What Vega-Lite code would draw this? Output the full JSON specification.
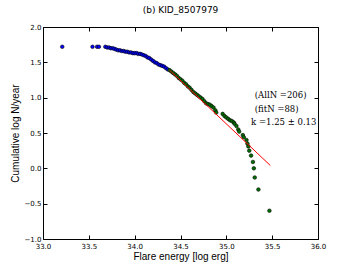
{
  "$schema": "https://vega.github.io/schema/vega-lite/v6.json",
  "width": 275,
  "height": 212,
  "autosize": "none",
  "padding": {"left": 43, "top": 27, "right": 36, "bottom": 27},
  "background": "white",
  "config": {
    "view": {"stroke": "black", "strokeWidth": 1},
    "axis": {"domain": false, "grid": false, "tickColor": "black", "tickSize": -4, "labelColor": "black", "labelFont": "DejaVu Sans", "labelFontSize": 7, "titleFont": "Liberation Sans", "titleFontSize": 10, "titleFontWeight": "normal", "titleColor": "black"}
  },
  "title": {"text": "(b) KID_8507979", "font": "DejaVu Sans", "fontSize": 9, "fontWeight": "normal", "color": "black", "offset": 8},
  "datasets": {
    "flares": [
      {"E": 33.21, "N": 1.72, "g": "all"},
      {"E": 33.54, "N": 1.72, "g": "all"},
      {"E": 33.59, "N": 1.72, "g": "all"},
      {"E": 33.61, "N": 1.72, "g": "all"},
      {"E": 33.68, "N": 1.72, "g": "all"},
      {"E": 33.70, "N": 1.71, "g": "all"},
      {"E": 33.72, "N": 1.71, "g": "all"},
      {"E": 33.74, "N": 1.70, "g": "all"},
      {"E": 33.76, "N": 1.70, "g": "all"},
      {"E": 33.78, "N": 1.69, "g": "all"},
      {"E": 33.80, "N": 1.68, "g": "all"},
      {"E": 33.82, "N": 1.67, "g": "all"},
      {"E": 33.84, "N": 1.67, "g": "all"},
      {"E": 33.86, "N": 1.66, "g": "all"},
      {"E": 33.88, "N": 1.66, "g": "all"},
      {"E": 33.90, "N": 1.65, "g": "all"},
      {"E": 33.92, "N": 1.65, "g": "all"},
      {"E": 33.94, "N": 1.64, "g": "all"},
      {"E": 33.96, "N": 1.64, "g": "all"},
      {"E": 33.98, "N": 1.63, "g": "all"},
      {"E": 34.00, "N": 1.63, "g": "all"},
      {"E": 34.02, "N": 1.63, "g": "all"},
      {"E": 34.04, "N": 1.62, "g": "all"},
      {"E": 34.06, "N": 1.62, "g": "all"},
      {"E": 34.08, "N": 1.61, "g": "all"},
      {"E": 34.10, "N": 1.60, "g": "all"},
      {"E": 34.12, "N": 1.59, "g": "all"},
      {"E": 34.14, "N": 1.57, "g": "all"},
      {"E": 34.16, "N": 1.56, "g": "all"},
      {"E": 34.18, "N": 1.54, "g": "all"},
      {"E": 34.20, "N": 1.52, "g": "all"},
      {"E": 34.22, "N": 1.50, "g": "all"},
      {"E": 34.24, "N": 1.49, "g": "all"},
      {"E": 34.26, "N": 1.47, "g": "all"},
      {"E": 34.28, "N": 1.46, "g": "all"},
      {"E": 34.30, "N": 1.45, "g": "all"},
      {"E": 34.32, "N": 1.44, "g": "all"},
      {"E": 34.34, "N": 1.42, "g": "all"},
      {"E": 34.36, "N": 1.40, "g": "all"},
      {"E": 34.38, "N": 1.39, "g": "fit"},
      {"E": 34.40, "N": 1.37, "g": "fit"},
      {"E": 34.42, "N": 1.35, "g": "fit"},
      {"E": 34.44, "N": 1.33, "g": "fit"},
      {"E": 34.46, "N": 1.31, "g": "fit"},
      {"E": 34.48, "N": 1.28, "g": "fit"},
      {"E": 34.50, "N": 1.26, "g": "fit"},
      {"E": 34.52, "N": 1.24, "g": "fit"},
      {"E": 34.54, "N": 1.21, "g": "fit"},
      {"E": 34.56, "N": 1.19, "g": "fit"},
      {"E": 34.58, "N": 1.16, "g": "fit"},
      {"E": 34.60, "N": 1.14, "g": "fit"},
      {"E": 34.62, "N": 1.11, "g": "fit"},
      {"E": 34.64, "N": 1.08, "g": "fit"},
      {"E": 34.66, "N": 1.06, "g": "fit"},
      {"E": 34.68, "N": 1.04, "g": "fit"},
      {"E": 34.70, "N": 1.02, "g": "fit"},
      {"E": 34.72, "N": 1.00, "g": "fit"},
      {"E": 34.74, "N": 0.98, "g": "fit"},
      {"E": 34.76, "N": 0.95, "g": "fit"},
      {"E": 34.78, "N": 0.92, "g": "fit"},
      {"E": 34.80, "N": 0.91, "g": "fit"},
      {"E": 34.82, "N": 0.90, "g": "fit"},
      {"E": 34.84, "N": 0.88, "g": "fit"},
      {"E": 34.86, "N": 0.86, "g": "fit"},
      {"E": 34.88, "N": 0.82, "g": "fit"},
      {"E": 34.89, "N": 0.79, "g": "fit"},
      {"E": 34.96, "N": 0.77, "g": "fit"},
      {"E": 34.98, "N": 0.74, "g": "fit"},
      {"E": 35.00, "N": 0.72, "g": "fit"},
      {"E": 35.02, "N": 0.70, "g": "fit"},
      {"E": 35.04, "N": 0.68, "g": "fit"},
      {"E": 35.06, "N": 0.67, "g": "fit"},
      {"E": 35.08, "N": 0.65, "g": "fit"},
      {"E": 35.09, "N": 0.63, "g": "fit"},
      {"E": 35.11, "N": 0.60, "g": "fit"},
      {"E": 35.13, "N": 0.55, "g": "fit"},
      {"E": 35.14, "N": 0.52, "g": "fit"},
      {"E": 35.18, "N": 0.47, "g": "fit"},
      {"E": 35.19, "N": 0.44, "g": "fit"},
      {"E": 35.22, "N": 0.40, "g": "fit"},
      {"E": 35.23, "N": 0.35, "g": "fit"},
      {"E": 35.24, "N": 0.31, "g": "fit"},
      {"E": 35.25, "N": 0.25, "g": "fit"},
      {"E": 35.27, "N": 0.18, "g": "fit"},
      {"E": 35.29, "N": 0.09, "g": "fit"},
      {"E": 35.30, "N": 0.00, "g": "fit"},
      {"E": 35.31, "N": -0.13, "g": "fit"},
      {"E": 35.35, "N": -0.30, "g": "fit"},
      {"E": 35.47, "N": -0.60, "g": "fit"}
    ],
    "fitline": [
      {"E": 34.38, "N": 1.39},
      {"E": 35.48, "N": 0.04}
    ],
    "one": [{"k": 1}]
  },
  "resolve": {"axis": {"x": "independent", "y": "independent"}},
  "layer": [
    {
      "data": {"name": "flares"},
      "mark": {"type": "point", "filled": true, "shape": "circle", "size": 13, "stroke": "black", "strokeWidth": 0.6, "opacity": 1},
      "encoding": {
        "x": {"field": "E", "type": "quantitative", "scale": {"domain": [33, 36], "nice": false, "zero": false},
              "axis": {"orient": "bottom", "title": "Flare energy [log erg]", "values": [33, 33.5, 34, 34.5, 35, 35.5, 36], "format": ".1f", "labelPadding": 7, "titlePadding": 2, "labelFlush": false}},
        "y": {"field": "N", "type": "quantitative", "scale": {"domain": [-1, 2], "nice": false, "zero": false},
              "axis": {"orient": "left", "title": "Cumulative log N/year", "values": [-1, -0.5, 0, 0.5, 1, 1.5, 2], "format": ".1f", "labelPadding": 6, "titlePadding": 4, "labelFlush": false}},
        "fill": {"field": "g", "type": "nominal", "scale": {"domain": ["all", "fit"], "range": ["#0000ff", "#007000"]}, "legend": null}
      }
    },
    {
      "data": {"name": "fitline"},
      "mark": {"type": "line", "color": "#ff0000", "strokeWidth": 1},
      "encoding": {
        "x": {"field": "E", "type": "quantitative", "axis": {"orient": "top", "title": null, "labels": false, "values": [33, 33.5, 34, 34.5, 35, 35.5, 36]}},
        "y": {"field": "N", "type": "quantitative", "axis": {"orient": "right", "title": null, "labels": false, "values": [-1, -0.5, 0, 0.5, 1, 1.5, 2]}}
      }
    },
    {
      "data": {"name": "one"},
      "mark": {"type": "text", "align": "left", "baseline": "middle", "font": "DejaVu Serif", "fontSize": 8.5, "color": "black", "text": "(AllN =206)"},
      "encoding": {
        "x": {"datum": 35.31, "type": "quantitative", "axis": null},
        "y": {"datum": 1.04, "type": "quantitative", "axis": null}
      }
    },
    {
      "data": {"name": "one"},
      "mark": {"type": "text", "align": "left", "baseline": "middle", "font": "DejaVu Serif", "fontSize": 8.5, "color": "black", "text": "(fitN =88)"},
      "encoding": {
        "x": {"datum": 35.31, "type": "quantitative", "axis": null},
        "y": {"datum": 0.84, "type": "quantitative", "axis": null}
      }
    },
    {
      "data": {"name": "one"},
      "mark": {"type": "text", "align": "left", "baseline": "middle", "font": "DejaVu Serif", "fontSize": 8.5, "color": "black", "text": "k =1.25 ± 0.13"},
      "encoding": {
        "x": {"datum": 35.27, "type": "quantitative", "axis": null},
        "y": {"datum": 0.65, "type": "quantitative", "axis": null}
      }
    }
  ]
}
